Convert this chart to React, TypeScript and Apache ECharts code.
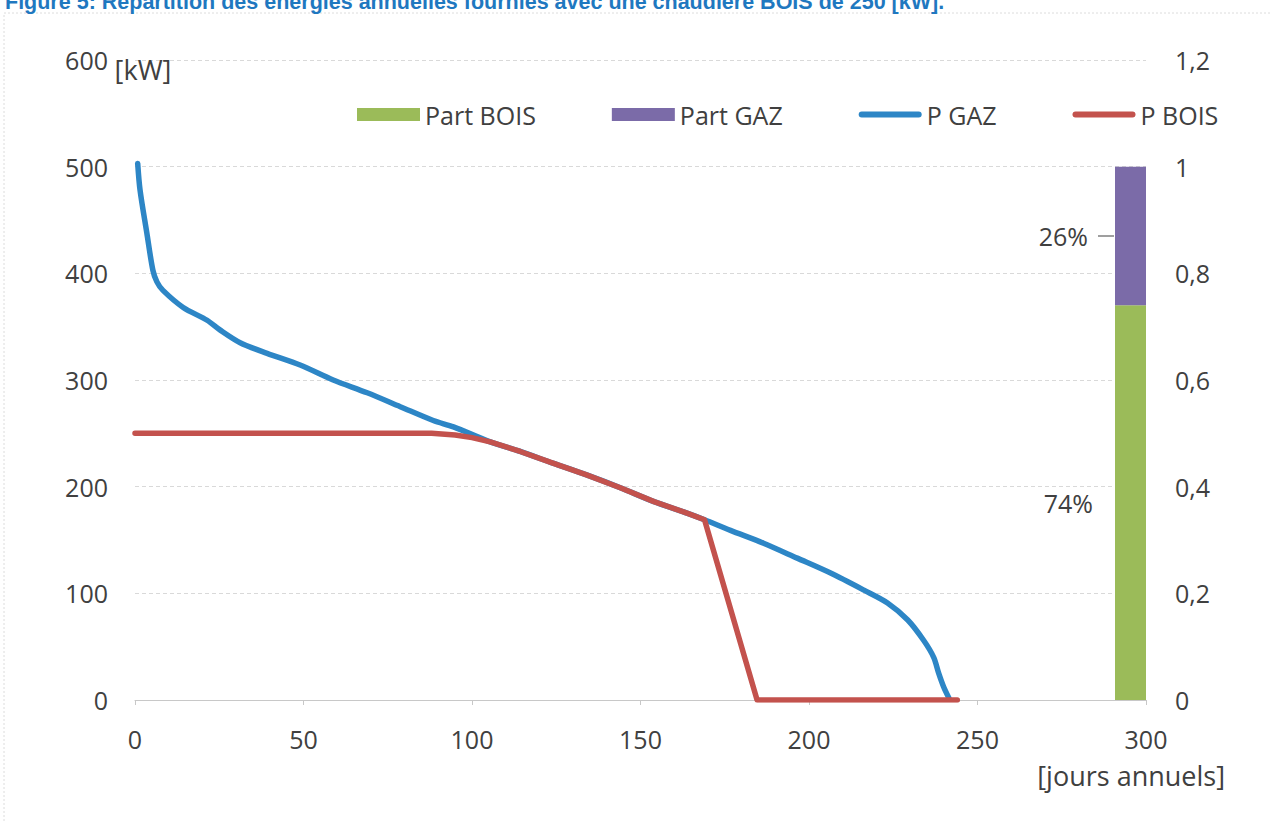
import React, { useEffect, useRef } from "react";
import * as echarts from "echarts";

const TITLE =
  "Figure 5: Répartition des énergies annuelles fournies avec une chaudière BOIS de 250 [kW].";
const SERIES_NAMES = ["Part BOIS", "Part GAZ", "P GAZ", "P BOIS"];
const Y_NAME = "[kW]";
const X_NAME = "[jours annuels]";

// P GAZ curve (days, kW)
const GAZ_DAYS = [
  0.8, 1.5, 3.5, 5.3, 6.5, 8.3, 14.3, 21.4, 25.2, 31.2, 39.2, 49, 58.8, 68.9, 78.7,
  88.5, 94.5, 105.4, 114.3, 124, 134, 144, 154, 164, 169, 176.7, 186.5, 196.5,
  206.4, 216.3, 223.3, 229.3, 234, 237, 238.5, 240, 241.5,
];
const GAZ_KW = [
  503, 478, 438, 403, 392, 384, 368, 356, 347, 335, 325, 314, 300, 288, 275, 262,
  256, 242, 233, 222, 211, 199, 186, 175, 169, 159, 147, 133, 119, 103, 91, 75, 56,
  40, 25, 12, 2,
];

// P BOIS curve (days, kW)
const BOIS_DAYS = [
  0, 88, 95, 100, 105.4, 114.3, 124, 134, 144, 154, 164, 169, 184.6, 244,
];
const BOIS_KW = [250, 250, 248.5, 246, 242, 233, 222, 211, 199, 186, 175, 169, 0, 0];

// Annual energy shares (stacked bar)
const PART_CATEGORY = ["Part"];
const PART_BOIS = [0.74];
const PART_GAZ = [0.26];

const FONT = "'Open Sans', Lato, sans-serif";
const TEXT_COLOR = "#404040";
const FS = 25;

// legend icons: rounded thick line inside a 63x13 box
const LINE_ICON =
  "path://M0,0 L0,0 M63,13 L63,13 M3,3.5 L60,3.5 A3,3 0 0 1 60,9.5 L3,9.5 A3,3 0 0 1 3,3.5 Z";

export default function App() {
  const ref = useRef<HTMLDivElement>(null);

  useEffect(() => {
    if (!ref.current) return;
    const chart = echarts.init(ref.current, undefined, { renderer: "svg" });

    const pct = (p: any) => Math.round(p.value * 100) + "%";
    const txt = { fontSize: FS, color: TEXT_COLOR, fontFamily: FONT };
    const nameTxt = { fontSize: 27, color: TEXT_COLOR, fontFamily: FONT };

    chart.setOption({
      animation: false,
      backgroundColor: "#ffffff",
      textStyle: { fontFamily: FONT },
      title: {
        text: TITLE,
        left: 0,
        top: -14,
        textStyle: {
          color: "#1F78C0",
          fontWeight: "bold",
          fontSize: 21.5,
          fontFamily: "'Liberation Sans', Arial, sans-serif",
        },
      },
      graphic: [
        {
          type: "rect",
          silent: true,
          shape: { x: 4, y: 13, width: 1400, height: 1000 },
          style: { fill: "none", stroke: "#dcdcdc", lineWidth: 1, lineDash: [2, 2] },
        },
      ],
      legend: {
        left: 357,
        top: 102,
        padding: 0,
        itemWidth: 63,
        itemHeight: 13,
        itemGap: 76,
        textStyle: txt,
        data: [
          { name: SERIES_NAMES[0], icon: "rect" },
          { name: SERIES_NAMES[1], icon: "rect" },
          { name: SERIES_NAMES[2], icon: LINE_ICON },
          { name: SERIES_NAMES[3], icon: LINE_ICON },
        ],
      },
      grid: [
        { left: 135, right: 125, top: 60, bottom: 121 },
        { left: 1115, width: 31, top: 60, bottom: 121 },
      ],
      xAxis: [
        {
          type: "value",
          gridIndex: 0,
          min: 0,
          max: 300,
          interval: 50,
          name: X_NAME,
          nameLocation: "end",
          nameGap: 79,
          nameTextStyle: {
            ...nameTxt,
            align: "right",
            verticalAlign: "top",
            padding: [62, 0, 0, 0],
          },
          axisLine: { lineStyle: { color: "#c8c8c8", width: 1 } },
          axisTick: { show: true, length: 5, lineStyle: { color: "#c8c8c8" } },
          axisLabel: { ...txt, margin: 26 },
          splitLine: { show: false },
        },
        {
          type: "category",
          gridIndex: 1,
          data: PART_CATEGORY,
          show: false,
        },
      ],
      yAxis: [
        {
          type: "value",
          gridIndex: 0,
          min: 0,
          max: 600,
          interval: 100,
          name: Y_NAME,
          nameLocation: "end",
          nameGap: -9,
          nameTextStyle: {
            ...nameTxt,
            align: "center",
            verticalAlign: "middle",
            padding: [0, 0, 0, 16],
          },
          axisLine: { show: false },
          axisTick: { show: false },
          axisLabel: { ...txt, margin: 27 },
          splitLine: { lineStyle: { color: "#d9d9d9", type: [4, 3], width: 1 } },
        },
        {
          type: "value",
          gridIndex: 0,
          min: 0,
          max: 1.2,
          interval: 0.2,
          position: "right",
          axisLine: { show: false },
          axisTick: { show: false },
          splitLine: { show: false },
          axisLabel: {
            ...txt,
            margin: 29,
            formatter: (v: number) => String(Math.round(v * 10) / 10).replace(".", ","),
          },
        },
        {
          type: "value",
          gridIndex: 1,
          min: 0,
          max: 1.2,
          show: false,
          splitLine: { show: false },
        },
      ],
      series: [
        {
          name: SERIES_NAMES[0],
          type: "bar",
          xAxisIndex: 1,
          yAxisIndex: 2,
          stack: "part",
          barWidth: "100%",
          itemStyle: { color: "#9BBB59" },
          data: PART_BOIS,
          label: { show: true, position: "left", distance: 22, formatter: pct, ...txt },
        },
        {
          name: SERIES_NAMES[1],
          type: "bar",
          xAxisIndex: 1,
          yAxisIndex: 2,
          stack: "part",
          barWidth: "100%",
          itemStyle: { color: "#7B6BA8" },
          data: PART_GAZ,
          label: {
            show: true,
            position: "left",
            distance: 1,
            formatter: (p: any) => pct(p) + "{gap|}{ln|}",
            ...txt,
            rich: {
              gap: { width: 10, height: 1 },
              ln: { width: 16, height: 1.5, backgroundColor: "#7f7f7f" },
            },
          },
        },
        {
          name: SERIES_NAMES[2],
          type: "line",
          symbol: "none",
          smooth: 0.3,
          lineStyle: { color: "#2D86C6", width: 5.5, cap: "round" },
          itemStyle: { color: "#2D86C6" },
          data: GAZ_DAYS.map((d, i) => [d, GAZ_KW[i]]),
        },
        {
          name: SERIES_NAMES[3],
          type: "line",
          symbol: "none",
          lineStyle: { color: "#C3524D", width: 5.5, cap: "round", join: "round" },
          itemStyle: { color: "#C3524D" },
          data: BOIS_DAYS.map((d, i) => [d, BOIS_KW[i]]),
        },
      ],
    });

    return () => chart.dispose();
  }, []);

  return (
    <div
      ref={ref}
      style={{ position: "fixed", left: 0, top: 0, width: 1271, height: 821, background: "#fff" }}
    />
  );
}
